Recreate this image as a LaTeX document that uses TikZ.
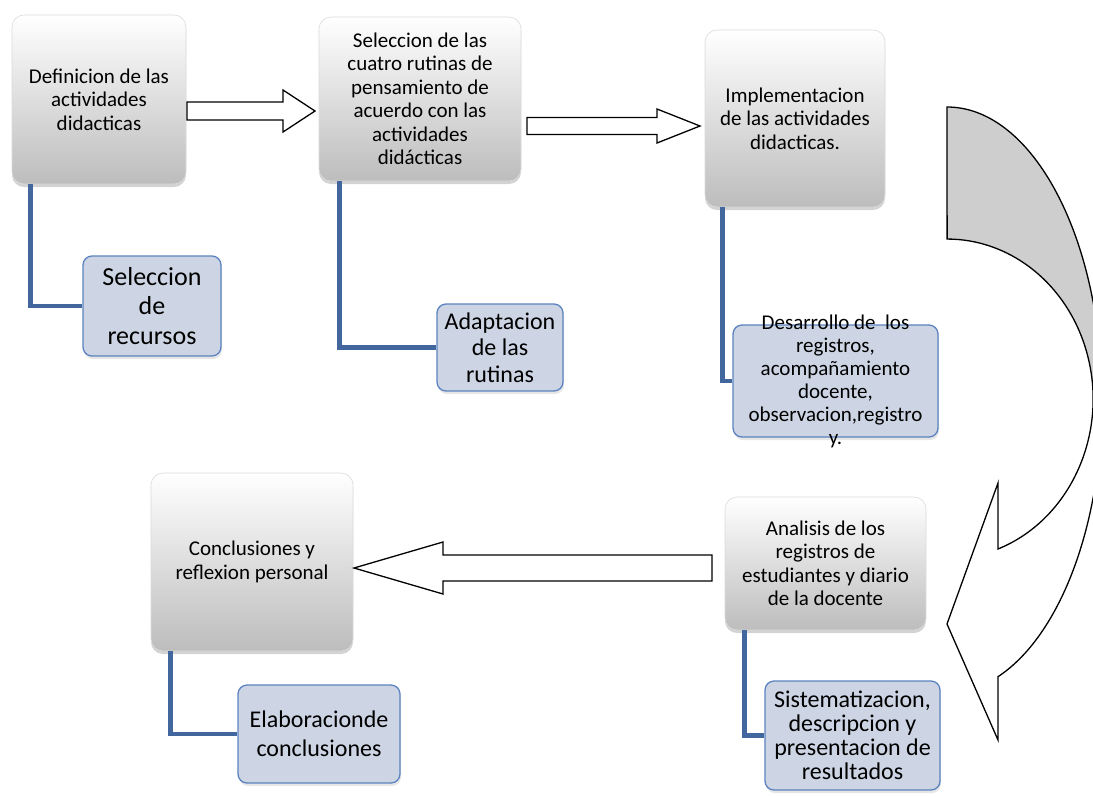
\documentclass[tikz,border=0pt]{standalone}
\usepackage{fontspec}
\setmainfont{Carlito}
\usetikzlibrary{positioning,calc,shadows}
\definecolor{linkblue}{RGB}{65,103,158}
\definecolor{subfill}{RGB}{205,213,228}
\definecolor{subedge}{RGB}{91,131,192}
\definecolor{backgray}{RGB}{206,206,206}

% hollow block arrow: from, to, shaft half width, head half width, head length
\newcommand{\fatarrow}[5]{%
  \draw[fat] let \p1=(#1), \p2=(#2), \p3=($(#2)!#5pt!(#1)$) in
    (\x1,\y1+#3pt) -- (\x3,\y1+#3pt) -- (\x3,\y1+#4pt) -- (\p2)
    -- (\x3,\y1-#4pt) -- (\x3,\y1-#3pt) -- (\x1,\y1-#3pt) -- cycle;}

\newcommand{\bendpath}{(947,107)
  arc[start angle=-90, end angle=70.8, x radius=155, y radius=293]
  -- (998,740) -- (947,624) -- (998,483) -- (998,549)
  arc[start angle=69.6, end angle=-90, x radius=146, y radius=160] -- cycle}

\begin{document}
\begin{tikzpicture}[x=1pt, y=-1pt,
  mainbox/.style={rounded corners=12pt, top color=white, bottom color=black!26,
    draw=black!14, line width=0.6pt, align=center, inner sep=2pt,
    font=\fontsize{21}{23.5}\selectfont,
    drop shadow={shadow xshift=0pt, shadow yshift=-3pt, opacity=0.35}},
  subbox/.style={rounded corners=9pt, fill=subfill, draw=subedge, line width=1.3pt,
    align=center, inner sep=2pt,
    drop shadow={shadow xshift=1pt, shadow yshift=-3pt, opacity=0.2}},
  link/.style={draw=linkblue, line width=4.5pt},
  fat/.style={draw=black, line width=1.3pt, fill=white}]

  \useasboundingbox (0,0) rectangle (1093,796);

  % main steps
  \node[mainbox, minimum width=174, minimum height=169] (g1) at (99,99.5)
    {Definicion de las\\actividades\\didacticas};
  \node[mainbox, minimum width=202, minimum height=164] (g2) at (420,99)
    {Seleccion de las\\cuatro rutinas de\\pensamiento de\\acuerdo con las\\actividades\\didácticas};
  \node[mainbox, minimum width=180, minimum height=177] (g3) at (795,118.5)
    {Implementacion\\de las actividades\\didacticas.};
  \node[mainbox, minimum width=201, minimum height=133] (g4) at (825.5,563.5)
    {Analisis de los\\registros de\\estudiantes y diario\\de la docente};
  \node[mainbox, minimum width=202, minimum height=178] (g5) at (252,562)
    {Conclusiones y\\reflexion personal};

  % sub steps
  \node[subbox, minimum width=138, minimum height=100,
    font=\fontsize{26}{29.5}\selectfont] (s1) at (152,306)
    {Seleccion\\de\\recursos};
  \node[subbox, minimum width=126, minimum height=87,
    font=\fontsize{24}{26.5}\selectfont] (s2) at (500,347.5)
    {Adaptacion\\de las\\rutinas};
  \node[subbox, minimum width=205, minimum height=112] (s3) at (835.5,381) {};
  \node[font=\fontsize{21}{23}\selectfont, align=center] (s3t) at (s3)
    {Desarrollo de\ \ los\\registros,\\acompañamiento\\docente,\\observacion,registro\\y.};
  \node[subbox, minimum width=175, minimum height=109,
    font=\fontsize{24}{24}\selectfont] (s4) at (852.5,735.5)
    {Sistematizacion,\\descripcion y\\presentacion de\\resultados};
  \node[subbox, minimum width=162, minimum height=98,
    font=\fontsize{24}{29}\selectfont] (s5) at (319,734)
    {Elaboracionde\\conclusiones};

  \draw[link] ([xshift=19pt]g1.south west) |- (s1.west);
  \draw[link] ([xshift=21pt]g2.south west) |- (s2.west);
  \draw[link] ([xshift=18pt]g3.south west) |- (s3.west);
  \draw[link] ([xshift=20pt]g4.south west) |- (s4.west);
  \draw[link] ([xshift=20pt]g5.south west) |- (s5.west);

  % block arrows
  \coordinate (a1from) at (187,111);
  \coordinate (a1to) at (315,111);
  \coordinate (a2from) at (527,126);
  \coordinate (a2to) at (700,126);
  \coordinate (a3from) at (712,568);
  \coordinate (a3to) at (354,568);
  \fatarrow{a1from}{a1to}{9}{21}{32}
  \fatarrow{a2from}{a2to}{8.5}{17}{43}
  \fatarrow{a3from}{a3to}{13}{26}{89}

  % curved arrow on the right
  \fill[white] \bendpath;
  \begin{scope}
    \clip (940,100) rectangle (1100,400);
    \fill[backgray] \bendpath;
  \end{scope}
  \draw[line width=1.3pt, line join=miter] \bendpath;
\end{tikzpicture}
\end{document}
